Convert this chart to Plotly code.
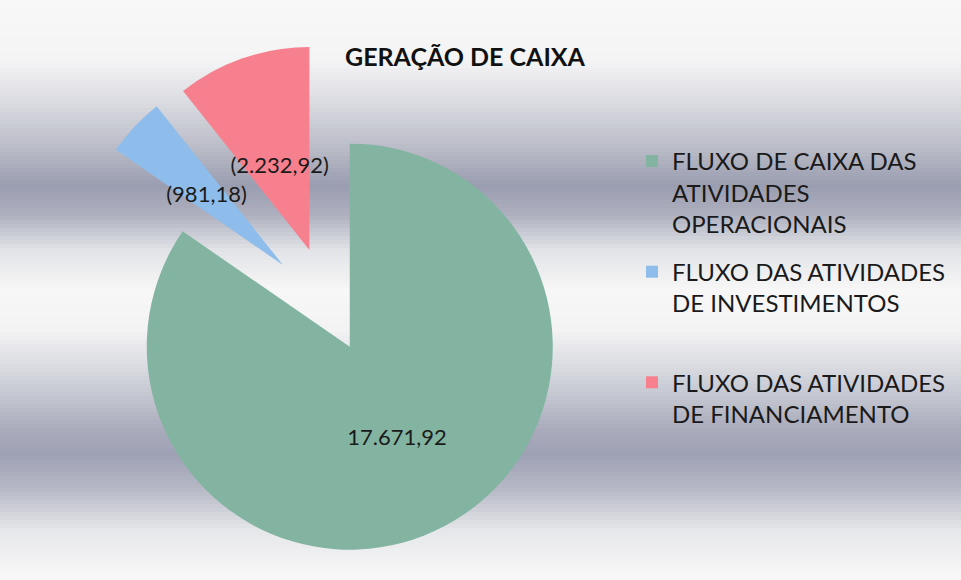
import plotly.graph_objects as go

# ---- data ----
categories = [
    "FLUXO DE CAIXA DAS ATIVIDADES OPERACIONAIS",
    "FLUXO DAS ATIVIDADES DE INVESTIMENTOS",
    "FLUXO DAS ATIVIDADES DE FINANCIAMENTO",
]
legend_lines = [
    ["FLUXO DE CAIXA DAS", "ATIVIDADES", "OPERACIONAIS"],
    ["FLUXO DAS ATIVIDADES", "DE INVESTIMENTOS"],
    ["FLUXO DAS ATIVIDADES", "DE FINANCIAMENTO"],
]
values = [17671.92, -981.18, -2232.92]

# ---- style / layout ----
colors = ["#82B4A1", "#8EBDEB", "#F7808F"]
FONT = "Lato"
W, H = 961, 580
CX, CY = 330.0, 309.0          # pie centre (px)
R_MAIN = 203.0                 # pie radius (px)
PULL_PX = [42.5, 64.4, 62.5]   # explode distances (px)
R_LABEL = 120.0                # radius of the (transparent) label pie


def fmt_br(v):
    s = f"{abs(v):,.2f}".replace(",", "X").replace(".", ",").replace("X", ".")
    return f"({s})" if v < 0 else s


def pie_geom(radius):
    pulls = [p / radius for p in PULL_PX]
    half = radius * (1 + max(pulls))
    dom = dict(
        x=[(CX - half) / W, (CX + half) / W],
        y=[(H - (CY + half)) / H, (H - (CY - half)) / H],
    )
    return pulls, dom


texts = [fmt_br(v) for v in values]
sizes = [abs(v) for v in values]
tfont = dict(family=FONT, size=22, color="#1a1a1a")

fig = go.Figure()

pulls_main, dom_main = pie_geom(R_MAIN)
fig.add_trace(go.Pie(
    labels=categories, values=sizes,
    text=[texts[0], "", ""], textinfo="text",
    textposition="inside", insidetextorientation="horizontal",
    textfont=tfont,
    marker=dict(colors=colors, line=dict(width=0)),
    pull=pulls_main, sort=False, direction="clockwise", rotation=0,
    domain=dom_main, showlegend=False,
    customdata=texts, hovertemplate="%{label}<br>%{customdata}<extra></extra>",
))

# transparent pie sharing the same centre / explode offsets, used to place the
# labels of the two small slices nearer the centre (as in the original)
pulls_lab, dom_lab = pie_geom(R_LABEL)
fig.add_trace(go.Pie(
    labels=categories, values=sizes,
    text=["", texts[1], texts[2]], textinfo="text",
    textposition="inside", insidetextorientation="horizontal",
    textfont=tfont,
    marker=dict(colors=["rgba(0,0,0,0)"] * 3, line=dict(width=0)),
    pull=pulls_lab, sort=False, direction="clockwise", rotation=0,
    domain=dom_lab, showlegend=False, hoverinfo="skip",
))

# legend entries
for i, (lines, c) in enumerate(zip(legend_lines, colors)):
    name = "<br>".join(lines)
    if i == 1:
        name += "<br> "
    fig.add_trace(go.Scatter(
        x=[None], y=[None], mode="markers", name=name,
        marker=dict(symbol="square", size=12, color=c),
        legendgroup=f"g{i}", hoverinfo="skip",
    ))

# background gradient bands (scanned metallic look)
stops = [
    (0, (248, 248, 248)), (60, (244, 244, 245)), (100, (220, 221, 226)),
    (150, (184, 186, 198)), (185, (154, 157, 176)), (215, (174, 176, 191)),
    (250, (226, 227, 231)), (290, (247, 247, 247)), (330, (243, 243, 244)),
    (380, (208, 210, 218)), (430, (169, 171, 187)), (455, (158, 161, 180)),
    (490, (183, 185, 198)), (530, (230, 231, 234)), (580, (248, 248, 248)),
]


def col_at(y):
    for (y0, c0), (y1, c1) in zip(stops[:-1], stops[1:]):
        if y0 <= y <= y1:
            t = (y - y0) / (y1 - y0)
            return "rgb(%d,%d,%d)" % tuple(round(a + (b - a) * t) for a, b in zip(c0, c1))
    return "rgb(248,248,248)"


shapes = []
step = 4
for y in range(0, H, step):
    shapes.append(dict(
        type="rect", xref="paper", yref="paper", layer="below",
        x0=0, x1=1, y0=1 - (y + step) / H, y1=1 - y / H,
        fillcolor=col_at(y + step / 2), line=dict(width=0),
    ))

fig.update_layout(
    width=W, height=H,
    margin=dict(l=0, r=0, t=0, b=0),
    paper_bgcolor="#f6f6f6",
    plot_bgcolor="rgba(0,0,0,0)",
    xaxis=dict(visible=False), yaxis=dict(visible=False),
    shapes=shapes,
    title=dict(
        text="<b>GERAÇÃO DE CAIXA</b>",
        x=465 / W, xanchor="center", y=1 - 57 / H, yanchor="middle",
        font=dict(family=FONT, size=25, color="#111111"),
    ),
    uniformtext=dict(mode="show", minsize=22),
    legend=dict(
        x=632 / W, y=1 - 139 / H, xanchor="left", yanchor="top",
        valign="top", bgcolor="rgba(0,0,0,0)", traceorder="grouped",
        tracegroupgap=14,
        font=dict(family=FONT, size=24, color="#1a1a1a"),
        itemclick=False, itemdoubleclick=False,
    ),
    showlegend=True,
)

fig.write_html(
    "out.html",
    config={"displayModeBar": False},
    post_script="document.body.style.margin='0';document.body.style.overflow='hidden';",
)
